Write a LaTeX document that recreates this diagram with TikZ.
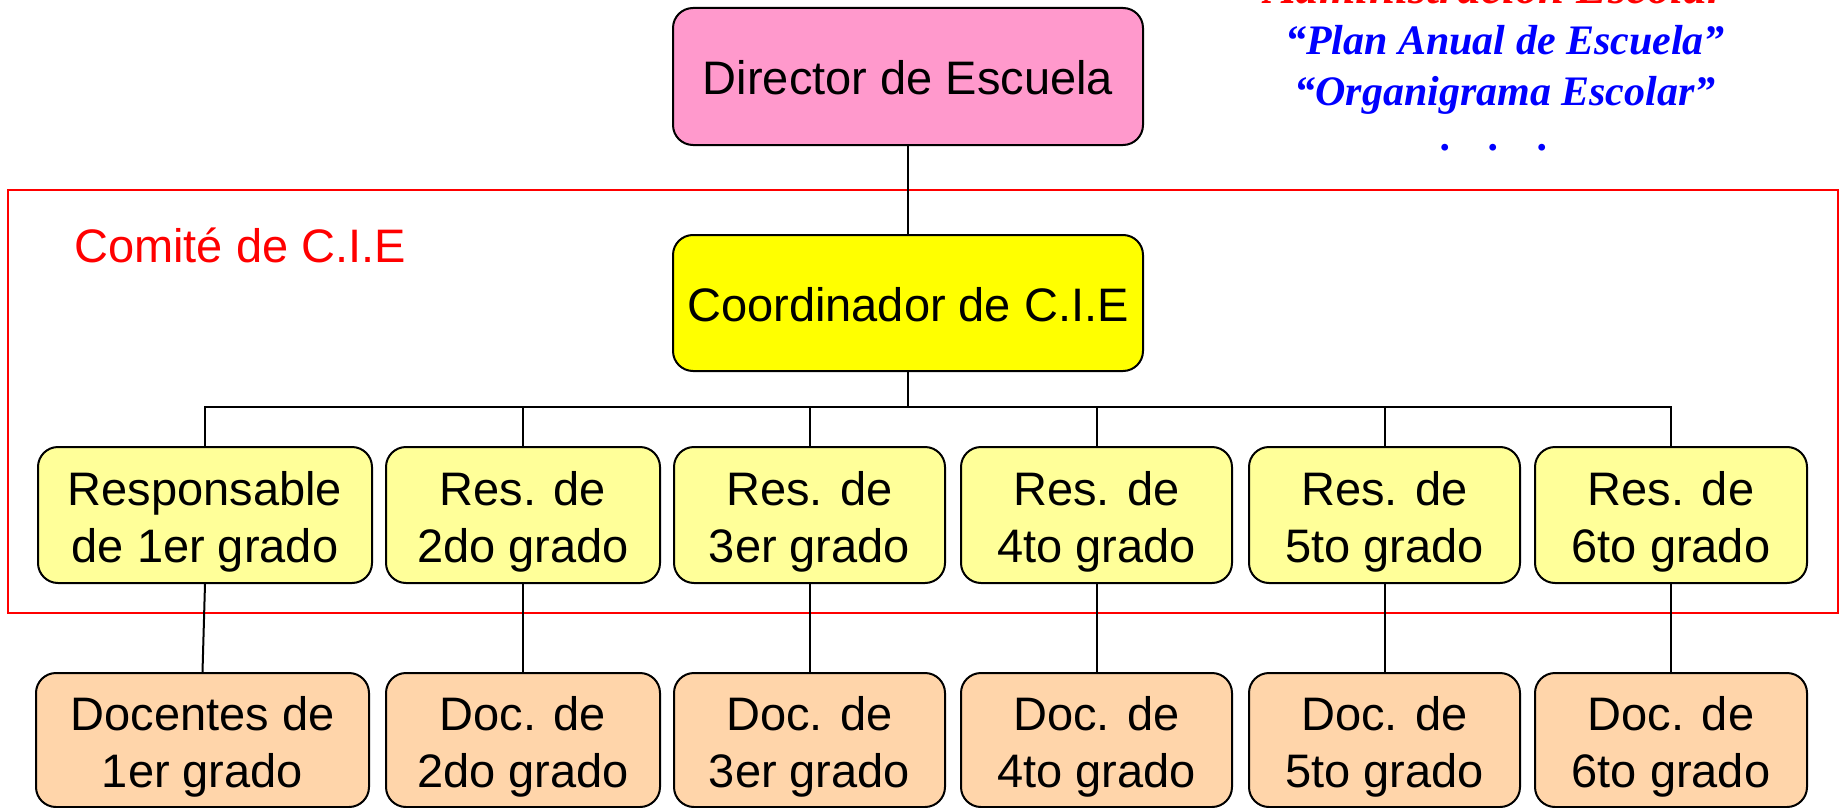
\documentclass[tikz,border=0pt]{standalone}
\usepackage{fontspec}
\setmainfont{Liberation Sans}
\newfontfamily\tnr{Liberation Serif}
\definecolor{pinkbox}{HTML}{FF99CC}
\definecolor{coordyellow}{HTML}{FFFF00}
\definecolor{resyellow}{HTML}{FFFF99}
\definecolor{docpeach}{HTML}{FFD5AA}
\newcommand\twolines[2]{\begin{tabular}[t]{@{}c@{}}#1\\#2\end{tabular}}
\begin{document}
\begin{tikzpicture}[x=1pt,y=-1pt,
  box/.style={draw=black, line width=2pt, rounded corners=20pt, inner sep=0pt, font=\fontsize{47}{57}\selectfont},
  onebox/.style={box, text height=37pt, text depth=0pt},
  twobox/.style={box, text height=50pt, text depth=70pt},
  resbox/.style={twobox, fill=resyellow, minimum height=136pt},
  docbox/.style={twobox, fill=docpeach, minimum height=134pt},
  conn/.style={draw=black, line width=2pt},
  note/.style={anchor=base, font=\tnr\bfseries\itshape\fontsize{42}{50}\selectfont}]
\useasboundingbox (0,0) rectangle (1847,808);
% committee frame
\node[draw=red, line width=2.5pt, minimum width=1830pt, minimum height=423pt, inner sep=0pt] (cie) at (923,401.5) {};
\node[anchor=base west, text=red, inner sep=0pt, font=\fontsize{47}{56}\selectfont] (ciet) at (74,262) {Comité de C.I.E};
% top boxes
\node[onebox, fill=pinkbox, minimum width=470pt, minimum height=137pt] (dir) at (908,76.5) {Director de Escuela};
\node[onebox, fill=coordyellow, minimum width=470pt, minimum height=136pt] (coord) at (908,303) {Coordinador de C.I.E};
% responsables
\node[resbox, minimum width=334pt] (r1) at (205,515) {\twolines{Responsable}{de 1er grado}};
\node[resbox, minimum width=274pt] (r2) at (523,515) {\twolines{Res. de}{2do grado}};
\node[resbox, minimum width=271pt] (r3) at (809.5,515) {\twolines{Res. de}{3er grado}};
\node[resbox, minimum width=271pt] (r4) at (1096.5,515) {\twolines{Res. de}{4to grado}};
\node[resbox, minimum width=271pt] (r5) at (1384.5,515) {\twolines{Res. de}{5to grado}};
\node[resbox, minimum width=272pt] (r6) at (1671,515) {\twolines{Res. de}{6to grado}};
% docentes
\node[docbox, minimum width=333pt] (d1) at (202.5,740) {\twolines{Docentes de}{1er grado}};
\node[docbox, minimum width=274pt] (d2) at (523,740) {\twolines{Doc. de}{2do grado}};
\node[docbox, minimum width=271pt] (d3) at (809.5,740) {\twolines{Doc. de}{3er grado}};
\node[docbox, minimum width=271pt] (d4) at (1096.5,740) {\twolines{Doc. de}{4to grado}};
\node[docbox, minimum width=271pt] (d5) at (1384.5,740) {\twolines{Doc. de}{5to grado}};
\node[docbox, minimum width=272pt] (d6) at (1671,740) {\twolines{Doc. de}{6to grado}};
% connectors
\coordinate (bus) at (908,407);
\draw[conn] (dir) -- (coord);
\draw[conn] (coord.south) -- (bus);
\draw[conn] (r1.north) |- (bus) -| (r6.north);
\foreach \n in {r2,r3,r4,r5} \draw[conn] (\n.north) -- (\n.north |- bus);
\foreach \i in {1,...,6} \draw[conn] (r\i.south) -- (d\i.north);
% notes top right
\node[note, text=red, font=\tnr\bfseries\itshape\fontsize{47}{50}\selectfont] (adm) at (1495,4) {Administración Escolar};
\node[note, text=blue] (plan) at (1505,55) {“Plan Anual de Escuela”};
\node[note, text=blue] (org) at (1505,106) {“Organigrama Escolar”};
\node[note, text=blue] (dots) at (1495,150) {.\hspace{38pt}.\hspace{38pt}.};
\end{tikzpicture}
\end{document}
